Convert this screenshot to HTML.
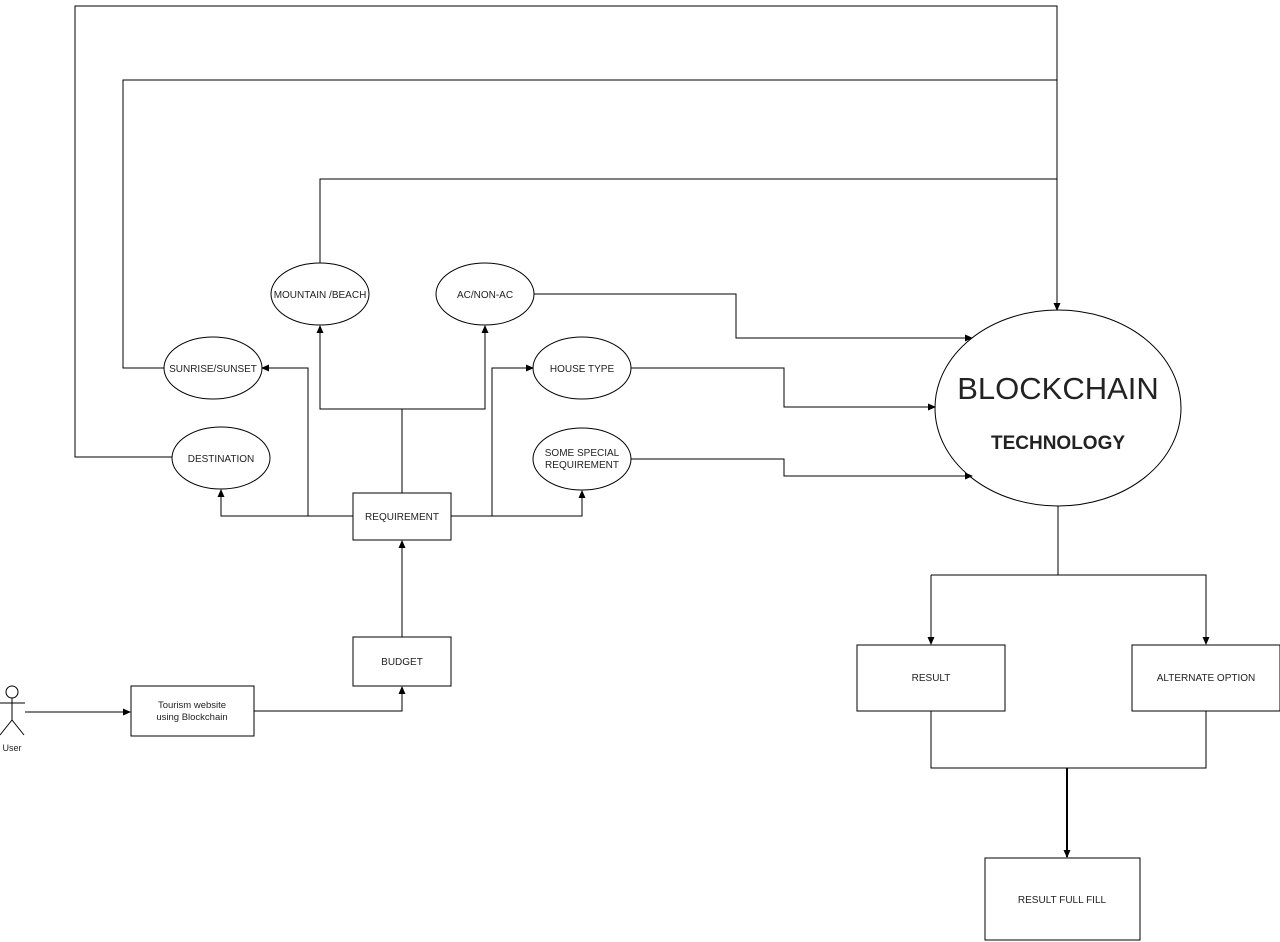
<!DOCTYPE html>
<html><head><meta charset="utf-8"><style>
html,body{margin:0;padding:0;background:#fff;}
svg{display:block;}
text{font-family:"Liberation Sans",sans-serif;fill:#222;}
</style></head><body>
<svg width="1280" height="942" viewBox="0 0 1280 942" xmlns="http://www.w3.org/2000/svg">
<defs><marker id="a" markerWidth="8" markerHeight="8" refX="7" refY="4" orient="auto" markerUnits="userSpaceOnUse"><path d="M0,0.5 L8,4 L0,7.5 Z" fill="#000"/></marker></defs>
<g fill="none" stroke="#000" stroke-width="1">
<polyline points="172,457 75,457 75,6 1057,6 1057,310" marker-end="url(#a)"/>
<polyline points="164,368 123,368 123,80 1057,80"/>
<polyline points="320,263 320,179 1057,179"/>
<ellipse cx="320" cy="294" rx="49" ry="31"/>
<ellipse cx="485" cy="294" rx="49" ry="31"/>
<ellipse cx="213" cy="368" rx="49" ry="31"/>
<ellipse cx="582" cy="368" rx="49" ry="31"/>
<ellipse cx="221" cy="458" rx="49" ry="31"/>
<ellipse cx="582" cy="459" rx="49" ry="31"/>
<ellipse cx="1058" cy="408" rx="123" ry="98"/>
<rect x="353" y="493" width="98" height="47"/>
<rect x="353" y="637" width="98" height="49"/>
<rect x="131" y="686" width="123" height="50"/>
<rect x="857" y="645" width="148" height="66"/>
<rect x="1132" y="645" width="148" height="66"/>
<rect x="985" y="858" width="155" height="82"/>
<polyline points="353,516 221,516 221,490" marker-end="url(#a)"/>
<polyline points="308,516 308,368 262,368" marker-end="url(#a)"/>
<polyline points="402,493 402,409"/>
<polyline points="402,409 320,409 320,326" marker-end="url(#a)"/>
<polyline points="402,409 485,409 485,326" marker-end="url(#a)"/>
<polyline points="451,516 492,516 492,368 533,368" marker-end="url(#a)"/>
<polyline points="492,516 582,516 582,491" marker-end="url(#a)"/>
<polyline points="534,294 736,294 736,338 972,338" marker-end="url(#a)"/>
<polyline points="631,368 784,368 784,407 935,407" marker-end="url(#a)"/>
<polyline points="631,459 784,459 784,476 972,476" marker-end="url(#a)"/>
<polyline points="402,637 402,541" marker-end="url(#a)"/>
<polyline points="254,711 402,711 402,687" marker-end="url(#a)"/>
<polyline points="25,712 130,712" marker-end="url(#a)"/>
<polyline points="1058,506 1058,575"/>
<polyline points="931,575 931,644" marker-end="url(#a)"/>
<polyline points="931,575 1206,575 1206,644" marker-end="url(#a)"/>
<polyline points="931,711 931,768 1206,768 1206,711"/>
<polyline points="1067,768 1067,857" stroke-width="2" marker-end="url(#a)"/>
<circle cx="12" cy="692" r="6"/>
<line x1="12" y1="698" x2="12" y2="720"/>
<line x1="0" y1="703" x2="25" y2="703"/>
<polyline points="0,735 12,720 24,735"/>
</g>
<g font-size="10" text-anchor="middle">
<text x="320" y="298">MOUNTAIN /BEACH</text>
<text x="485" y="298">AC/NON-AC</text>
<text x="213" y="372">SUNRISE/SUNSET</text>
<text x="582" y="372">HOUSE TYPE</text>
<text x="221" y="462">DESTINATION</text>
<text x="582" y="456">SOME SPECIAL</text>
<text x="582" y="468">REQUIREMENT</text>
<text x="402" y="520">REQUIREMENT</text>
<text x="402" y="665">BUDGET</text>
<text x="192" y="708" font-size="9.5">Tourism website</text>
<text x="192" y="720" font-size="9.5">using Blockchain</text>
<text x="12" y="751" font-size="9">User</text>
<text x="931" y="681">RESULT</text>
<text x="1206" y="681">ALTERNATE OPTION</text>
<text x="1062" y="903">RESULT FULL FILL</text>
<text x="1058" y="399" font-size="31" fill="#000">BLOCKCHAIN</text>
<text x="1058" y="449" font-size="19" font-weight="bold" fill="#000">TECHNOLOGY</text>
</g>
</svg>
</body></html>
